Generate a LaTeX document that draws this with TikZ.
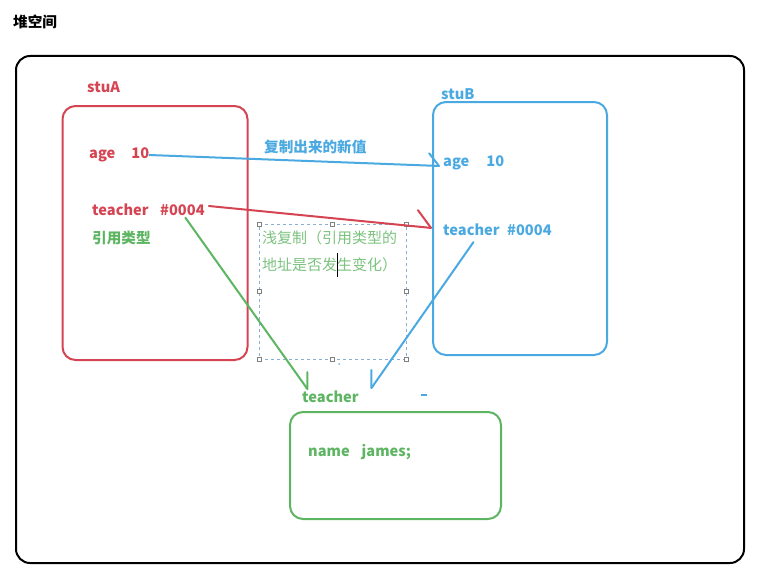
\documentclass[tikz,border=0pt]{standalone}
\usepackage{fontspec}
\setmainfont{Noto Sans CJK SC}
\usetikzlibrary{arrows.meta,calc}
\definecolor{stuRed}{HTML}{D44452}
\definecolor{stuBlue}{HTML}{4BA9E1}
\definecolor{teaGreen}{HTML}{5DB562}
\definecolor{noteGreen}{HTML}{7CC27F}
\definecolor{selBlue}{HTML}{8AAFD6}

\begin{document}
\begin{tikzpicture}[x=1pt,y=-1pt,
    txt/.style={inner sep=0pt,anchor=west,font=\fontsize{14.6}{16}\selectfont\bfseries},
    heapbox/.style={draw=black,line width=2pt,rounded corners=14pt},
    membox/.style={line width=2pt,rounded corners=13pt},
    link/.style={line width=2pt,line cap=round},
    handle/.style={draw=gray,fill=white,inner sep=0pt,minimum size=4pt},
  ]
  \useasboundingbox (0,0) rectangle (778,578);
  \node[txt,text=black] (heap) at (13,22) {堆空间};
  \node[heapbox,minimum width=728pt,minimum height=507pt] (heapArea) at (380,309.5) {};

  \node[txt,text=stuRed] (stuA) at (87,87) {stuA};
  \node[membox,draw=stuRed,minimum width=185pt,minimum height=254pt] (boxA) at (155,233) {};
  \node[txt,text=stuRed] (aAge) at (89,155) {age\hspace{16pt}10};
  \node[txt,text=stuRed] (aTeacher) at (92,210) {teacher};
  \node[txt,text=stuRed] (aAddr) at (160,210) {\#0004};
  \node[txt,text=teaGreen] (aType) at (92,238) {引用类型};

  \node[txt,text=stuBlue] (stuB) at (441,94) {stuB};
  \node[membox,draw=stuBlue,minimum width=174pt,minimum height=253pt] (boxB) at (520,228.5) {};
  \node[txt,text=stuBlue] (bAge) at (443,163) {age\hspace{17pt}10};
  \node[txt,text=stuBlue] (bTeacher) at (443,230) {teacher};
  \node[txt,text=stuBlue] (bAddr) at (507,230) {\#0004};
  \node[txt,text=stuBlue] (copyNote) at (264,147) {复制出来的新值};

  \node[txt,text=teaGreen] (cTeacher) at (302,397) {teacher};
  \node[membox,draw=teaGreen,minimum width=211pt,minimum height=107pt] (boxC) at (395.5,465.5) {};
  \node[txt,text=teaGreen] (cName) at (308,452) {name\hspace{12pt}james;};

  \node[draw=selBlue,dashed,line width=0.6pt,minimum width=147pt,minimum height=135pt] (sel) at (332.5,291.5) {};
  \foreach \a in {north west,north,north east,east,south east,south,south west,west}
    \node[handle] at (sel.\a) {};
  \node[anchor=north west,inner sep=0pt,align=left,text=noteGreen,
        font=\fontsize{15}{27}\selectfont] (shallow) at (262,230)
        {浅复制（引用类型的\\地址是否发生变化）};
  \draw[line width=0.8pt] (337,253) -- (337,277);

  \draw[link,draw=stuBlue,-{Straight Barb[left,round,angle=100:16pt]}] (aAge.east) -- ($(bAge.west)+(-3,3)$);
  \draw[link,draw=stuRed,-{Straight Barb[left,round,angle=96:22pt]}] ($(aAddr.east)+(4,-4)$) -- ($(bTeacher.west)+(-11,-2)$);
  \draw[link,draw=teaGreen,-{Straight Barb[left,round,angle=70:17pt]}] ($(aAddr.south)+(3,2)$) -- ($(cTeacher.north west)+(6,-1)$);
  \draw[link,draw=stuBlue,-{Straight Barb[right,round,angle=70:18pt]}] ($(bTeacher.south)+(2,6)$) -- ($(cTeacher.north east)+(12,-2)$);

  \fill[stuBlue] (421,394) rectangle (427,396);
  \fill[selBlue] (339,364) circle (1pt);
\end{tikzpicture}
\end{document}
